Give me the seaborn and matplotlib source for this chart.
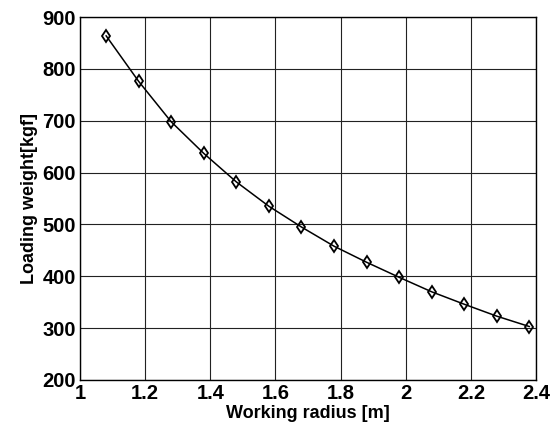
import matplotlib
matplotlib.use('Agg')
import matplotlib.pyplot as plt
import seaborn as sns
import pandas as pd

# Datos
radio = [1.08, 1.18, 1.28, 1.38, 1.48, 1.58, 1.68, 1.78, 1.88, 1.98, 2.08, 2.18, 2.28, 2.38]
carga = [864, 776, 698, 637, 582, 535, 495, 458, 427, 398, 370, 346, 323, 303]

df = pd.DataFrame({'radio': radio, 'carga': carga})

sns.set_style("white")
plt.rcParams['font.family'] = ['Liberation Sans', 'DejaVu Sans']
plt.rcParams['font.weight'] = 'bold'
plt.rcParams['text.color'] = 'black'
plt.rcParams['axes.labelcolor'] = 'black'
plt.rcParams['xtick.color'] = 'black'
plt.rcParams['ytick.color'] = 'black'

fig = plt.figure(figsize=(5.57, 4.32), dpi=100)
ax = fig.add_axes([0.1436, 0.1204, 0.8187, 0.8402])

sns.lineplot(data=df, x='radio', y='carga', ax=ax, color='black', linewidth=1.1,
             marker='d', markersize=6, markerfacecolor='none',
             markeredgecolor='black', markeredgewidth=1.3)

ax.set_xlim(1, 2.4)
ax.set_ylim(200, 900)
ax.set_xticks([1, 1.2, 1.4, 1.6, 1.8, 2, 2.2, 2.4])
ax.set_xticklabels(['1', '1.2', '1.4', '1.6', '1.8', '2', '2.2', '2.4'])
ax.set_yticks(range(200, 901, 100))
ax.grid(True, color='#222222', linewidth=0.8, linestyle='-')
ax.tick_params(axis='both', labelsize=14.5, direction='in', length=0, pad=3)
for s in ax.spines.values():
    s.set_color('black')
    s.set_linewidth(1.0)

ax.set_xlabel('Working radius [m]', fontsize=13, fontweight='bold', labelpad=1)
ax.set_ylabel('Loading weight[kgf]', fontsize=13, fontweight='bold', labelpad=3)

plt.savefig('out.png', dpi=100)
plt.close()
